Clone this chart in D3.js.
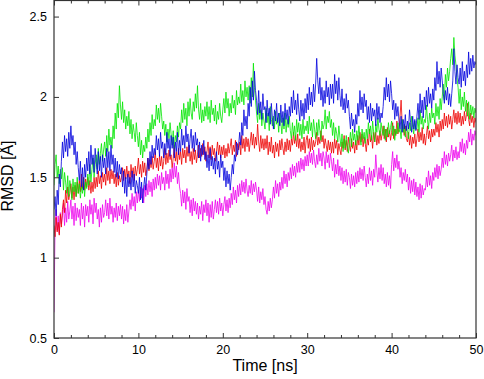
<!DOCTYPE html>
<html><head><meta charset="utf-8">
<script src="https://cdn.jsdelivr.net/npm/d3@7"></script>
<style>body{margin:0;background:#fff}svg{display:block}text{font-family:"Liberation Sans",Arial,sans-serif;fill:#000}</style>
</head><body>
<svg id="c" width="484" height="379"></svg>
<script>
const timeStep = 0.125; // ns between samples
const xTicks = [0,10,20,30,40,50];
const yTicks = [0.5,1,1.5,2,2.5];
const seriesColors = ["#ee00ee","#ee0000","#00e600","#0000dd"];

const green = [
1.45,1.58,1.64,1.50,1.57,1.46,1.55,1.49, 1.56,1.42,1.53,1.47,1.40,1.51,1.38,1.48,
1.44,1.36,1.49,1.41,1.47,1.38,1.50,1.40, 1.46,1.37,1.44,1.40,1.49,1.38,1.47,1.43,
1.52,1.45,1.58,1.47,1.55,1.62,1.50,1.58, 1.64,1.55,1.68,1.58,1.65,1.71,1.60,1.67,
1.72,1.63,1.76,1.66,1.80,1.70,1.75,1.68, 1.82,1.74,1.90,1.80,1.96,1.87,2.07,1.95,
1.86,1.97,1.84,1.92,1.80,1.88,1.82,1.91, 1.77,1.86,1.74,1.83,1.78,1.72,1.84,1.76,
1.69,1.78,1.64,1.73,1.62,1.70,1.66,1.75, 1.68,1.80,1.72,1.84,1.76,1.89,1.80,1.86,
1.82,1.95,1.86,1.93,1.84,1.96,1.88,1.80, 1.85,1.76,1.83,1.72,1.80,1.74,1.84,1.77,
1.70,1.79,1.68,1.76,1.72,1.82,1.75,1.84, 1.80,1.92,1.84,1.96,1.86,1.93,1.82,1.97,
1.88,1.99,1.90,1.86,1.97,1.91,2.02,1.93, 2.07,1.92,1.86,1.96,1.84,1.92,1.85,1.94,
1.88,1.97,1.86,1.94,1.84,1.98,1.89,1.93, 1.85,1.95,1.83,1.91,1.86,1.96,1.88,1.84,
1.92,1.99,1.90,2.03,1.93,1.99,1.88,1.96, 1.90,2.01,1.93,1.98,1.89,2.04,1.95,2.00,
1.96,2.08,1.97,2.04,1.95,2.10,2.00,2.06, 1.98,2.07,1.96,2.12,2.00,2.21,2.06,1.98,
1.90,1.84,1.96,1.86,1.92,1.82,1.90,1.85, 1.80,1.93,1.84,1.90,1.79,1.94,1.86,1.82,
1.88,1.80,1.91,1.83,1.87,1.78,1.90,1.84, 1.77,1.87,1.80,1.90,1.78,1.86,1.81,1.88,
1.79,1.74,1.84,1.76,1.82,1.73,1.86,1.78, 1.84,1.76,1.83,1.74,1.86,1.77,1.82,1.79,
1.85,1.77,1.88,1.79,1.84,1.75,1.86,1.80, 1.74,1.84,1.76,1.86,1.79,1.73,1.85,1.80,
1.83,1.92,1.80,1.88,1.84,1.91,1.81,1.86, 1.76,1.84,1.74,1.81,1.77,1.72,1.82,1.75,
1.69,1.77,1.66,1.74,1.68,1.76,1.70,1.65, 1.72,1.78,1.69,1.80,1.73,1.77,1.70,1.79,
1.73,1.82,1.75,1.70,1.80,1.74,1.78,1.71, 1.80,1.74,1.84,1.77,1.82,1.73,1.85,1.78,
1.72,1.83,1.78,1.87,1.80,1.76,1.84,1.79, 1.76,1.82,1.73,1.80,1.75,1.84,1.77,1.81,
1.85,1.76,1.82,1.73,1.80,1.77,1.84,1.78, 1.80,1.74,1.86,1.78,1.83,1.75,1.82,1.79,
1.74,1.84,1.79,1.88,1.81,1.77,1.85,1.80, 1.80,1.87,1.78,1.92,1.83,1.88,1.80,1.86,
1.84,1.95,1.86,1.80,1.90,1.84,1.93,1.87, 1.90,1.83,1.96,1.88,1.94,1.86,1.99,1.92,
2.00,2.08,1.98,2.14,2.06,2.18,2.10,2.16, 2.24,2.30,2.20,2.37,2.26,2.20,2.12,2.06,
1.96,2.05,1.92,2.00,1.94,2.03,1.91,1.98, 1.88,1.97,1.86,1.95,1.89,1.94,1.87,1.93,
1.90];

const blue = [
1.30,1.38,1.26,1.42,1.33,1.52,1.44,1.60, 1.72,1.62,1.76,1.66,1.74,1.63,1.78,1.68,
1.82,1.70,1.76,1.64,1.72,1.58,1.66,1.56, 1.48,1.60,1.44,1.56,1.42,1.58,1.50,1.62,
1.54,1.66,1.52,1.70,1.58,1.64,1.53,1.68, 1.60,1.52,1.66,1.54,1.63,1.50,1.64,1.56,
1.62,1.52,1.68,1.56,1.66,1.54,1.70,1.58, 1.64,1.53,1.62,1.50,1.60,1.49,1.58,1.52,
1.56,1.44,1.54,1.40,1.50,1.38,1.52,1.44, 1.50,1.42,1.54,1.44,1.52,1.40,1.48,1.45,
1.40,1.50,1.36,1.47,1.34,1.44,1.50,1.42, 1.52,1.62,1.55,1.66,1.58,1.70,1.62,1.68,
1.64,1.76,1.67,1.74,1.63,1.78,1.68,1.72, 1.62,1.71,1.64,1.78,1.68,1.74,1.63,1.76,
1.68,1.75,1.62,1.72,1.66,1.78,1.64,1.73, 1.66,1.80,1.70,1.76,1.68,1.82,1.72,1.77,
1.65,1.74,1.80,1.68,1.76,1.66,1.78,1.70, 1.74,1.62,1.72,1.60,1.70,1.64,1.73,1.61,
1.66,1.56,1.64,1.54,1.68,1.57,1.63,1.55, 1.62,1.52,1.66,1.55,1.60,1.50,1.64,1.56,
1.60,1.48,1.56,1.44,1.54,1.46,1.52,1.42, 1.50,1.58,1.52,1.64,1.60,1.72,1.64,1.70,
1.78,1.70,1.84,1.76,1.92,1.82,1.88,1.80, 1.96,1.88,2.06,1.94,2.10,1.98,2.16,2.04,
1.98,1.89,2.04,1.90,1.97,1.86,2.02,1.92, 1.94,1.84,1.98,1.88,1.93,1.83,1.96,1.87,
1.80,1.92,1.85,1.96,1.84,1.90,1.82,1.95, 1.84,1.91,1.82,1.96,1.86,1.92,1.83,1.94,
1.88,2.00,1.90,2.04,1.92,1.98,1.89,2.02, 1.92,1.85,1.98,1.88,1.96,1.86,1.99,1.90,
2.02,1.92,2.06,1.95,2.03,1.94,2.08,1.97, 2.08,2.24,2.10,2.02,2.12,1.98,2.06,1.94,
2.04,1.96,2.10,2.00,2.06,1.95,2.08,1.99, 2.08,1.96,2.14,2.02,2.10,1.98,2.12,2.01,
1.94,2.05,1.92,1.99,1.90,2.02,1.93,1.98, 1.88,1.80,1.90,1.82,1.86,1.78,1.89,1.83,
1.96,1.88,2.04,1.92,2.00,1.90,2.02,1.94, 1.98,1.86,1.94,1.84,1.96,1.85,1.93,1.88,
1.92,1.82,1.96,1.86,1.94,1.84,1.90,1.87, 1.94,2.06,1.98,2.12,2.00,2.08,1.97,2.10,
2.02,1.92,1.98,1.86,1.96,1.88,1.94,1.85, 1.80,1.88,1.78,1.86,1.80,1.89,1.79,1.85,
1.80,1.92,1.84,1.78,1.88,1.80,1.86,1.79, 1.88,1.96,1.86,2.02,1.90,1.98,1.87,2.00,
1.92,2.04,1.94,2.06,1.96,2.02,1.93,2.05, 1.98,2.12,2.04,2.22,2.08,2.16,2.06,2.18,
2.10,2.02,1.96,2.04,1.98,2.06,1.95,2.02, 1.94,2.02,2.10,2.30,2.16,2.08,2.20,2.12,
2.08,2.18,2.06,2.22,2.10,2.16,2.07,2.20, 2.12,2.28,2.14,2.24,2.16,2.26,2.18,2.22,
2.20];

const red = [
1.20,1.13,1.25,1.16,1.22,1.14,1.27,1.19, 1.30,1.36,1.28,1.42,1.34,1.44,1.36,1.40,
1.46,1.37,1.44,1.36,1.45,1.38,1.47,1.40, 1.48,1.41,1.52,1.43,1.50,1.42,1.49,1.44,
1.50,1.42,1.48,1.40,1.47,1.41,1.50,1.43, 1.50,1.44,1.54,1.46,1.51,1.43,1.53,1.47,
1.52,1.45,1.56,1.48,1.54,1.46,1.55,1.49, 1.54,1.46,1.52,1.44,1.53,1.45,1.51,1.47,
1.50,1.56,1.48,1.55,1.49,1.57,1.50,1.54, 1.46,1.58,1.50,1.56,1.48,1.57,1.51,1.55,
1.62,1.52,1.58,1.50,1.60,1.53,1.59,1.51, 1.55,1.62,1.54,1.61,1.56,1.63,1.55,1.60,
1.66,1.56,1.62,1.54,1.64,1.57,1.63,1.55, 1.60,1.68,1.58,1.65,1.59,1.67,1.61,1.64,
1.56,1.62,1.70,1.60,1.66,1.58,1.68,1.61, 1.66,1.58,1.68,1.62,1.67,1.59,1.69,1.63,
1.70,1.60,1.66,1.58,1.68,1.61,1.67,1.59, 1.64,1.70,1.62,1.68,1.63,1.71,1.64,1.69,
1.60,1.66,1.72,1.62,1.69,1.61,1.70,1.64, 1.68,1.60,1.66,1.72,1.64,1.70,1.62,1.69,
1.64,1.70,1.62,1.68,1.63,1.71,1.65,1.69, 1.74,1.64,1.70,1.66,1.73,1.63,1.71,1.67,
1.72,1.64,1.76,1.68,1.74,1.66,1.75,1.69, 1.74,1.66,1.72,1.78,1.70,1.77,1.68,1.75,
1.70,1.83,1.72,1.66,1.76,1.68,1.74,1.67, 1.74,1.68,1.76,1.64,1.72,1.66,1.75,1.65,
1.70,1.62,1.72,1.66,1.71,1.63,1.73,1.67, 1.74,1.68,1.64,1.72,1.66,1.74,1.67,1.73,
1.66,1.74,1.70,1.78,1.71,1.76,1.69,1.77, 1.68,1.74,1.66,1.72,1.67,1.75,1.65,1.73,
1.76,1.68,1.74,1.66,1.75,1.67,1.73,1.69, 1.72,1.78,1.70,1.75,1.71,1.79,1.72,1.76,
1.68,1.74,1.70,1.66,1.73,1.67,1.72,1.65, 1.72,1.65,1.74,1.68,1.73,1.64,1.71,1.67,
1.64,1.72,1.68,1.76,1.67,1.73,1.66,1.75, 1.70,1.66,1.74,1.68,1.72,1.65,1.73,1.67,
1.76,1.70,1.78,1.72,1.77,1.69,1.75,1.71, 1.66,1.74,1.70,1.80,1.72,1.76,1.68,1.78,
1.72,1.78,1.70,1.76,1.71,1.79,1.73,1.77, 1.82,1.74,1.80,1.72,1.81,1.75,1.79,1.73,
1.78,1.84,1.74,1.80,1.76,1.85,1.77,1.81, 1.88,1.98,1.84,1.80,1.76,1.82,1.74,1.72,
1.78,1.70,1.76,1.68,1.75,1.71,1.77,1.69, 1.74,1.80,1.72,1.78,1.73,1.81,1.71,1.77,
1.70,1.76,1.82,1.74,1.79,1.72,1.80,1.75, 1.80,1.76,1.84,1.78,1.83,1.75,1.85,1.79,
1.86,1.80,1.90,1.82,1.88,1.81,1.89,1.83, 1.88,1.80,1.86,1.92,1.84,1.90,1.83,1.91,
1.84,1.90,1.82,1.88,1.83,1.91,1.85,1.89, 1.96,1.86,1.82,1.90,1.84,1.88,1.81,1.87,
1.84];

const magenta = [
0.66,1.20,1.30,1.17,1.26,1.15,1.28,1.21, 1.26,1.34,1.20,1.31,1.22,1.35,1.24,1.29,
1.36,1.24,1.32,1.20,1.34,1.23,1.31,1.25, 1.30,1.20,1.34,1.24,1.32,1.19,1.33,1.26,
1.32,1.22,1.36,1.27,1.33,1.21,1.37,1.28, 1.34,1.24,1.30,1.19,1.31,1.22,1.33,1.25,
1.28,1.36,1.26,1.34,1.24,1.37,1.27,1.32, 1.22,1.31,1.25,1.34,1.23,1.32,1.26,1.33,
1.24,1.32,1.21,1.30,1.23,1.33,1.22,1.29, 1.36,1.30,1.40,1.32,1.38,1.29,1.41,1.34,
1.42,1.35,1.44,1.37,1.43,1.34,1.45,1.38, 1.46,1.39,1.48,1.41,1.47,1.38,1.49,1.42,
1.50,1.43,1.52,1.45,1.51,1.42,1.53,1.46, 1.50,1.42,1.54,1.46,1.52,1.43,1.55,1.47,
1.56,1.49,1.59,1.50,1.57,1.46,1.53,1.44, 1.40,1.32,1.42,1.34,1.41,1.30,1.43,1.35,
1.38,1.28,1.36,1.26,1.37,1.29,1.35,1.27, 1.34,1.24,1.32,1.27,1.35,1.23,1.33,1.28,
1.36,1.26,1.34,1.22,1.33,1.25,1.35,1.24, 1.30,1.36,1.28,1.35,1.27,1.37,1.29,1.34,
1.26,1.33,1.38,1.29,1.36,1.28,1.37,1.31, 1.40,1.33,1.44,1.36,1.42,1.34,1.45,1.38,
1.46,1.39,1.48,1.41,1.47,1.40,1.49,1.42, 1.38,1.45,1.40,1.48,1.39,1.46,1.41,1.47,
1.42,1.35,1.44,1.34,1.41,1.36,1.43,1.33, 1.38,1.30,1.27,1.35,1.29,1.37,1.31,1.36,
1.44,1.37,1.48,1.40,1.46,1.38,1.47,1.42, 1.50,1.43,1.54,1.46,1.52,1.44,1.53,1.48,
1.56,1.49,1.58,1.51,1.57,1.50,1.59,1.53, 1.60,1.53,1.62,1.55,1.61,1.54,1.63,1.57,
1.64,1.57,1.66,1.59,1.65,1.58,1.67,1.60, 1.56,1.64,1.58,1.68,1.60,1.65,1.57,1.66,
1.62,1.55,1.66,1.59,1.64,1.56,1.65,1.60, 1.54,1.62,1.50,1.58,1.52,1.61,1.51,1.57,
1.48,1.56,1.46,1.54,1.47,1.55,1.45,1.53, 1.50,1.43,1.52,1.45,1.51,1.44,1.53,1.46,
1.54,1.47,1.56,1.49,1.55,1.48,1.57,1.50, 1.44,1.52,1.46,1.56,1.48,1.54,1.45,1.55,
1.50,1.64,1.54,1.47,1.56,1.49,1.58,1.48, 1.56,1.46,1.52,1.44,1.53,1.45,1.51,1.43,
1.58,1.66,1.54,1.62,1.56,1.64,1.55,1.60, 1.50,1.56,1.46,1.53,1.48,1.55,1.47,1.52,
1.42,1.50,1.40,1.48,1.41,1.49,1.39,1.47, 1.38,1.44,1.36,1.46,1.37,1.45,1.39,1.43,
1.42,1.50,1.44,1.54,1.45,1.51,1.43,1.53, 1.48,1.56,1.50,1.58,1.49,1.57,1.51,1.55,
1.62,1.56,1.66,1.58,1.64,1.57,1.65,1.60, 1.64,1.70,1.60,1.67,1.62,1.69,1.61,1.66,
1.62,1.72,1.66,1.74,1.65,1.71,1.64,1.73, 1.68,1.78,1.72,1.80,1.70,1.77,1.73,1.79,
1.76];

const seriesValues = [magenta, red, green, blue];

const svg = d3.select("#c");
const L = 54, R = 476, T = 0.5, B = 338;
const x = d3.scaleLinear().domain([0,50]).range([L,R]);
const y = d3.scaleLinear().domain([0.5,2.6]).range([B,T]);

svg.append("clipPath").attr("id","clip").append("rect")
  .attr("x",L).attr("y",T).attr("width",R-L).attr("height",B-T);

const line = d3.line().x((d,i)=>x(i*timeStep)).y(d=>y(d));
const lines = svg.append("g").attr("clip-path","url(#clip)");
seriesValues.forEach((vals,k)=>{
  lines.append("path").datum(vals).attr("d",line)
    .attr("fill","none").attr("stroke",seriesColors[k]).attr("stroke-width",0.8);
});

// frame
svg.append("rect").attr("x",L).attr("y",T).attr("width",R-L).attr("height",B-T)
  .attr("fill","none").attr("stroke","#333").attr("stroke-width",1.2);

const minor = d3.range(0,51,2).filter(v=>v%10);
svg.append("g").attr("transform",`translate(0,${B})`)
  .call(d3.axisBottom(x).tickValues(xTicks).tickSize(-5).tickPadding(7).tickFormat(d3.format("d")));
svg.append("g").attr("transform",`translate(0,${B})`)
  .call(d3.axisBottom(x).tickValues(minor).tickSize(-3).tickFormat(""));
svg.append("g").attr("transform",`translate(0,${T})`)
  .call(d3.axisTop(x).tickValues(xTicks).tickSize(-5).tickFormat(""));
svg.append("g").attr("transform",`translate(0,${T})`)
  .call(d3.axisTop(x).tickValues(minor).tickSize(-3).tickFormat(""));
svg.append("g").attr("transform",`translate(${L},0)`)
  .call(d3.axisLeft(y).tickValues(yTicks).tickSize(-5).tickPadding(7).tickFormat(d=>String(d)));

svg.selectAll(".domain").remove();
svg.selectAll(".tick line").attr("stroke","#333").attr("stroke-width",1);
svg.selectAll(".tick text").attr("font-size",12.5).attr("font-family","Liberation Sans, Arial, sans-serif").attr("fill","#000");

svg.append("text").attr("x",(L+R)/2).attr("y",371).attr("text-anchor","middle")
  .attr("font-size",16).text("Time [ns]");
svg.append("text").attr("transform","translate(13,176) rotate(-90)").attr("text-anchor","middle")
  .attr("font-size",16).text("RMSD [Å]");
</script>
</body></html>
